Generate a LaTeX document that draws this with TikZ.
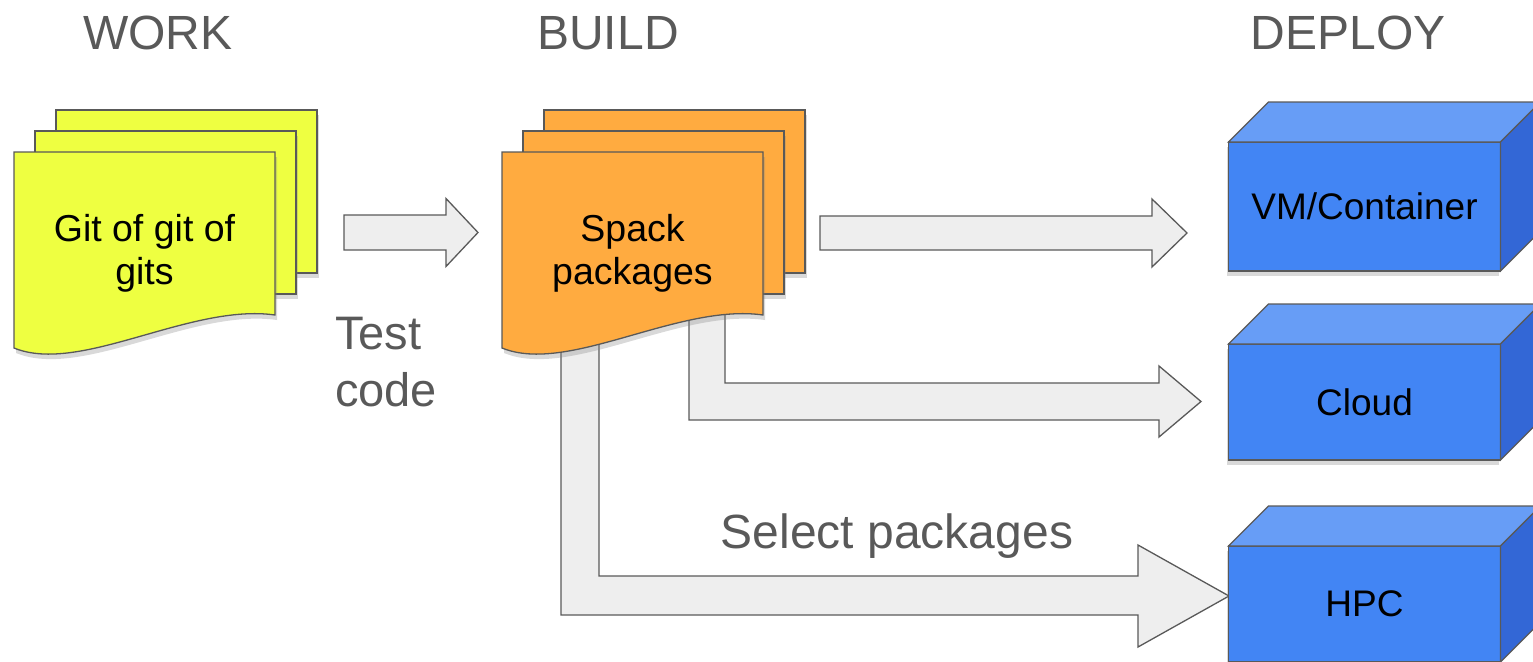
\documentclass[tikz,border=0pt]{standalone}
\usepackage{fontspec}
\setmainfont{Liberation Sans}
\usepackage{xcolor}
\definecolor{docyellow}{RGB}{238,255,65}
\definecolor{docorange}{RGB}{255,171,64}
\definecolor{edgegray}{RGB}{89,89,89}
\definecolor{arrowgray}{RGB}{238,238,238}
\definecolor{boxblue}{RGB}{66,133,244}
\definecolor{boxbluelight}{RGB}{103,157,246}
\definecolor{boxbluedark}{RGB}{51,103,214}
\usepackage{tikz}
\usetikzlibrary{calc}
\usetikzlibrary{shadows}
\newcommand{\widthsheet}{261}
\newcommand{\heightsheet}{163}
\newcommand{\depthbox}{40}
\newcommand{\wavesheet}[2]{%
    \draw[sheet, fill=#2] #1 -- ++(\widthsheet,0) -- ++(0,\heightsheet)
        .. controls +(-85,-12) and +(66,27) .. ++(-\widthsheet,33) -- cycle;}
\newcommand{\boxfaces}[1]{%
    \draw[boxtop] (#1.north west) -- ++(\depthbox,-\depthbox)
        -- ($(#1.north east)+(\depthbox,-\depthbox)$) -- (#1.north east) -- cycle;
    \draw[boxside] (#1.north east) -- ++(\depthbox,-\depthbox)
        -- ($(#1.south east)+(\depthbox,-\depthbox)$) -- (#1.south east) -- cycle;}
\tikzset{
    common/.style={draw=edgegray, line width=1.3pt, line join=miter},
    sheet/.style={common, drop shadow={opacity=0.3, shadow xshift=2pt, shadow yshift=-5pt}},
    fatarrow/.style={common, fill=arrowgray},
    heading/.style={text=edgegray, font=\fontsize{48}{58}\selectfont, anchor=base, inner sep=0},
    note/.style={text=edgegray, font=\fontsize{47}{57}\selectfont, align=left, inner sep=0},
    doctext/.style={font=\fontsize{37.5}{43}\selectfont, align=center, inner sep=0},
    boxfront/.style={common, fill=boxblue, outer sep=0, minimum width=272pt,
        font=\fontsize{37}{44}\selectfont,
        drop shadow={opacity=0.3, shadow xshift=-2pt, shadow yshift=-5pt}},
    boxtop/.style={common, fill=boxbluelight},
    boxside/.style={common, fill=boxbluedark}
}
\begin{document}
\begin{tikzpicture}[x=1pt, y=-1pt]
    \useasboundingbox (0,0) rectangle (1533,661);

    % stage titles
    \path (158,50) node[heading] (work) {WORK}
        ++(450,0) node[heading] (build) {BUILD}
        ++(740,0) node[heading] (deploy) {DEPLOY};

    % arrows
    \coordinate (test-tail) at (344,232.5);
    \coordinate (vm-tail) at (820,233);
    \coordinate (cloud-tail) at (689,300);
    \coordinate (hpc-tail) at (561,300);

    \draw[fatarrow] (test-tail) ++(0,-17.5) -- ++(102,0) -- ++(0,-16.5) -- ++(32,34)
        -- ++(-32,34) -- ++(0,-16.5) -- ++(-102,0) -- cycle;
    \draw[fatarrow] (vm-tail) ++(0,-17) -- ++(332,0) -- ++(0,-17) -- ++(35,34)
        -- ++(-35,34) -- ++(0,-17) -- ++(-332,0) -- cycle;
    \draw[fatarrow] (cloud-tail) -- ++(0,120) -- ++(470,0) -- ++(0,17) -- ++(42,-35.5)
        -- ++(-42,-35.5) -- ++(0,17) -- ++(-434,0) -- ++(0,-83) -- cycle;
    \draw[fatarrow] (hpc-tail) -- ++(0,315) -- ++(577,0) -- ++(0,32) -- ++(91,-51)
        -- ++(-91,-51) -- ++(0,31) -- ++(-539,0) -- ++(0,-276) -- cycle;

    % work: stack of sheets
    \draw[sheet, fill=docyellow] (56,110) rectangle ++(\widthsheet,\heightsheet);
    \draw[sheet, fill=docyellow] (35,131) rectangle ++(\widthsheet,\heightsheet);
    \wavesheet{(14,152)}{docyellow}
    \node[doctext] (git) at (144.5,253) {Git of git of\\gits};

    % build: stack of sheets
    \draw[sheet, fill=docorange] (544,110) rectangle ++(\widthsheet,\heightsheet);
    \draw[sheet, fill=docorange] (523,131) rectangle ++(\widthsheet,\heightsheet);
    \wavesheet{(502,152)}{docorange}
    \node[doctext] (spack) at (632.5,253) {Spack\\packages};

    \node[note, anchor=west] (test) at (335,362) {Test\\code};
    \node[heading] (select) at (897,548) {Select packages};

    % deploy targets
    \node[boxfront, minimum height=129pt] (vm) at (1364.5,206.5) {VM/Container};
    \boxfaces{vm}
    \node[boxfront, minimum height=116pt] (cloud) at (1364.5,402) {Cloud};
    \boxfaces{cloud}
    \node[boxfront, minimum height=116pt] (hpc) at (1364.5,604) {HPC};
    \boxfaces{hpc}
\end{tikzpicture}
\end{document}
